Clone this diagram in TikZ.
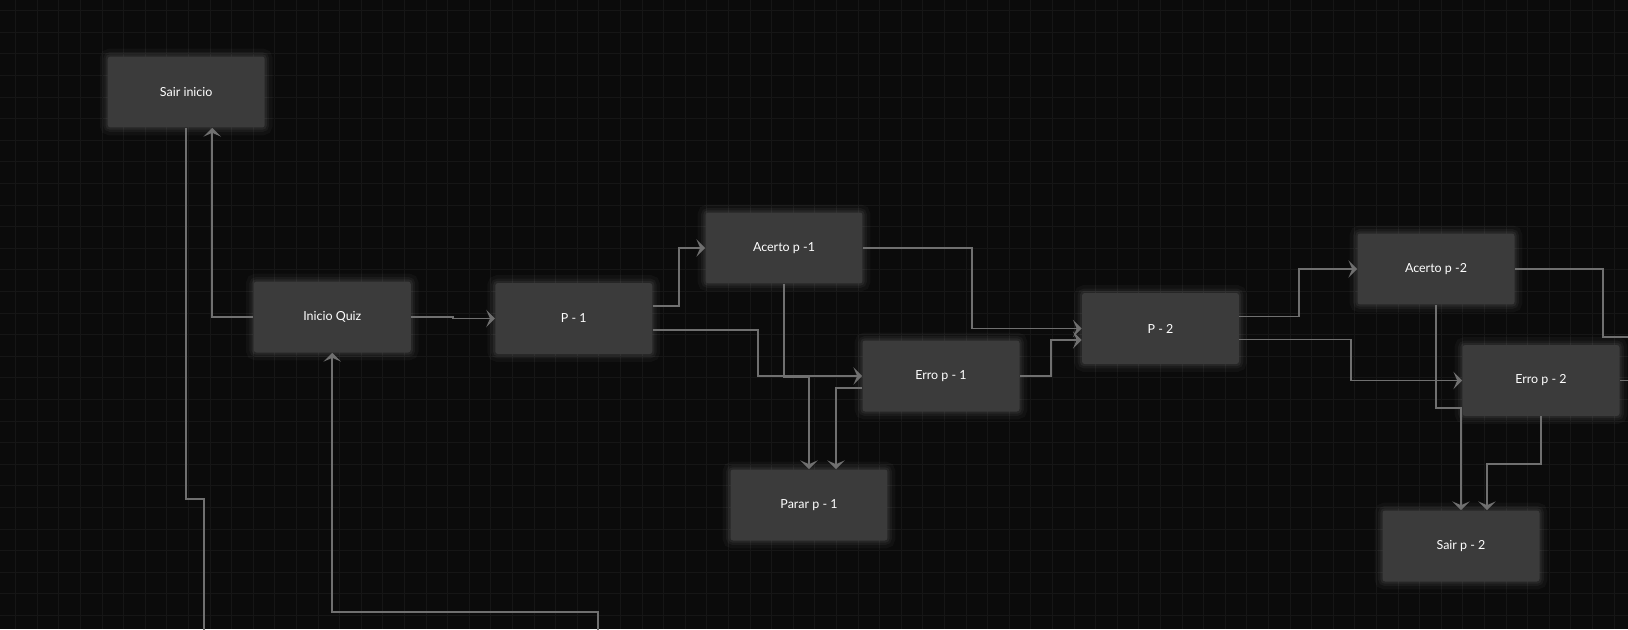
\documentclass[tikz,border=0pt]{standalone}
\usepackage{xcolor}
\usepackage{fontspec}
\setmainfont{Lato}
\usepackage{tikz}
\usetikzlibrary{arrows.meta,calc}
\definecolor{bgcol}{HTML}{0B0B0B}
\definecolor{gridcol}{HTML}{161616}
\definecolor{boxcol}{HTML}{3B3B3B}
\definecolor{linecol}{HTML}{707070}

\tikzset{
  stepnode/.style={fill=boxcol, rounded corners=1.5pt, minimum width=3.14cm, minimum height=1.42cm,
    inner sep=0pt, text=white, font=\fontsize{7.1}{8.5}\selectfont,
    preaction={draw=white, draw opacity=0.03, line width=9pt},
    preaction={draw=white, draw opacity=0.04, line width=5pt},
    preaction={draw=white, draw opacity=0.05, line width=2.5pt}},
  wire/.style={draw=linecol, line width=1pt},
  link/.style={wire, -{Stealth[length=5pt,width=10pt,inset=2.2pt]}},
  gridline/.style={draw=gridcol, line width=0.6pt}
}

\begin{document}
\begin{tikzpicture}[x=0.02cm, y=-0.02cm]%
\useasboundingbox (0,0) rectangle (1628,629);%
\fill[bgcol] (0,0) rectangle (1628,629);%
\foreach \i in {0,...,75} \draw[gridline] (15.7+21.6*\i,0) -- ++(0,629);%
\foreach \j in {0,...,28} \draw[gridline] (0,10.7+21.6*\j) -- ++(1628,0);%
\node[stepnode] (sair0) at (186.2, 92) {Sair inicio};%
\node[stepnode] (inicio) at (332.3, 317) {Inicio Quiz};%
\node[stepnode] (p1) at (573.8, 318.5) {P - 1};%
\node[stepnode] (acerto1) at (784, 248) {Acerto p -1};%
\node[stepnode] (erro1) at (941, 376) {Erro p - 1};%
\node[stepnode] (parar1) at (809, 505) {Parar p - 1};%
\node[stepnode] (p2) at (1160.5, 328.5) {P - 2};%
\node[stepnode] (acerto2) at (1436, 269) {Acerto p -2};%
\node[stepnode] (erro2) at (1541, 380.5) {Erro p - 2};%
\node[stepnode] (sair2) at (1461, 546) {Sair p - 2};%
\coordinate (outA) at (204, 640);%
\coordinate (outB) at (598, 640);%
\coordinate (outC) at (1640, 337.3);%
\coordinate (outD) at (1640, 380.5);%
\draw[link] (inicio.west) -| ($(sair0.south)+(26,0)$);%
\draw[wire] (sair0.south) -- ++(0,371) -| (outA);%
\draw[link] (outB) -- ++(0,-28) -| (inicio.south);%
\draw[link] (inicio.east) -- ++(42,0) |- (p1.west);%
\draw[link] ($(p1.east)+(0,-12.5)$) -- ++(26,0) |- (acerto1.west);%
\draw[link] ($(p1.east)+(0,11.5)$) -- ++(105.5,0) |- (erro1.west);%
\draw[link] (acerto1.south) -- ++(0,93.5) -| (parar1.north);%
\draw[link] ($(erro1.west)+(0,12)$) -| ($(parar1.north)+(27,0)$);%
\draw[link] (acerto1.east) -- ++(109,0) |- (p2.west);%
\draw[link] (erro1.east) -- ++(31,0) |- ($(p2.west)+(0,11.5)$);%
\draw[link] ($(p2.east)+(0,-12)$) -- ++(59.5,0) |- (acerto2.west);%
\draw[link] ($(p2.east)+(0,11)$) -- ++(112,0) |- (erro2.west);%
\draw[link] (acerto2.south) -- ++(0,103) -| (sair2.north);%
\draw[link] (erro2.south) -- ++(0,47.6) -| ($(sair2.north)+(26,0)$);%
\draw[wire] (acerto2.east) -- ++(88,0) |- (outC);%
\draw[wire] (erro2.east) -- (outD);%
\end{tikzpicture}
\end{document}
